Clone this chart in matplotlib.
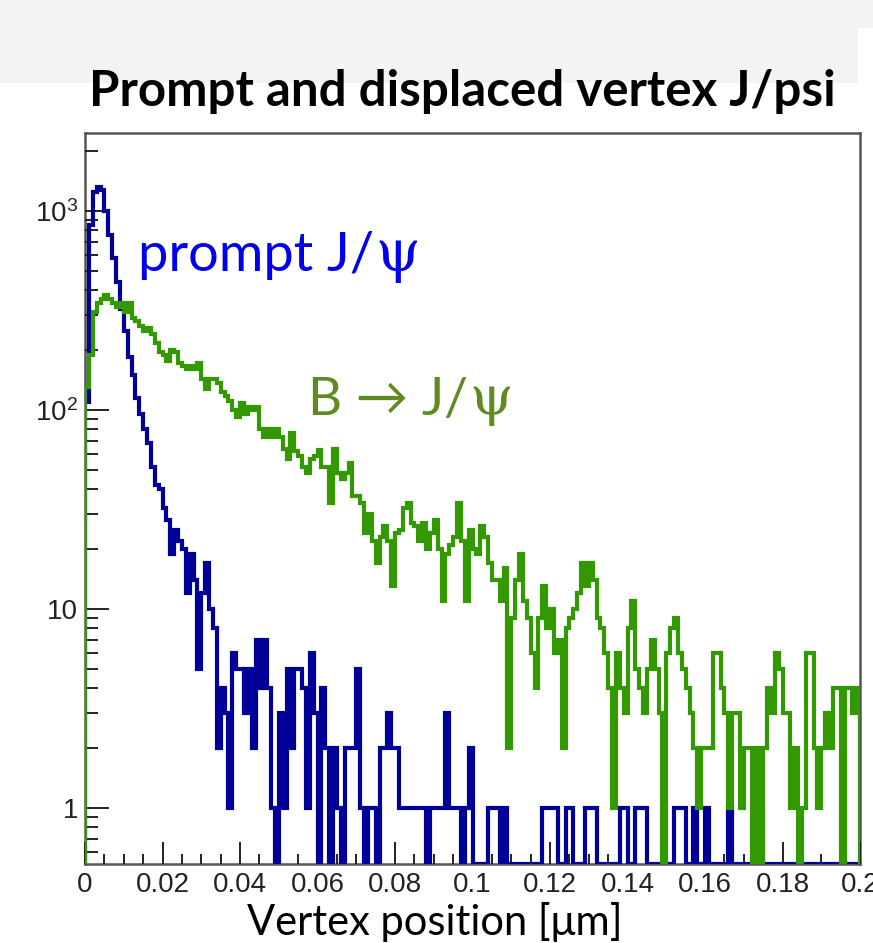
import numpy as np
import matplotlib
matplotlib.use("Agg")
import matplotlib.pyplot as plt
from matplotlib.patches import Rectangle
from matplotlib.offsetbox import TextArea, HPacker, AnnotationBbox
from matplotlib.ticker import MultipleLocator, LogLocator, FixedLocator, FixedFormatter, NullFormatter, FuncFormatter

plt.rcParams['mathtext.fontset'] = 'custom'
plt.rcParams['mathtext.rm'] = 'Liberation Sans'

# histogram binning: 200 bins between 0 and 0.2
x_min = 0.0
x_max = 0.2
n_bins = 200

# prompt J/psi counts per bin
prompt_counts = [
    110, 850, 1250, 1320, 1280, 1000, 760, 580, 440, 320,
    250, 185, 150, 115, 95, 80, 68, 52, 42, 40,
    32, 28, 19, 25, 22, 20, 12, 19, 14, 5,
    12, 17, 10, 8, 2, 4, 3, 1, 6, 5,
    5, 3, 5, 2, 7, 4, 7, 4, 1, 0,
    3, 1, 5, 2, 5, 5, 4, 1, 6, 3,
    0, 4, 2, 0, 2, 1, 0, 2, 2, 2,
    5, 1, 0, 1, 1, 0, 2, 2, 3, 2,
    2, 1, 1, 1, 1, 1, 1, 1, 0, 1,
    1, 1, 1, 3, 1, 1, 1, 0, 1, 2,
    0, 0, 0, 0, 1, 1, 1, 0, 1, 0,
    0, 0, 0, 0, 0, 0, 0, 0, 1, 1,
    1, 1, 0, 0, 1, 1, 0, 0, 0, 1,
    1, 1, 0, 0, 0, 0, 0, 0, 1, 1,
    0, 0, 1, 1, 1, 0, 0, 0, 0, 0,
    0, 0, 1, 1, 1, 0, 0, 1, 0, 0,
    1, 0, 0, 0, 0, 0, 1, 0, 0, 0,
    0, 0, 0, 0, 1, 0, 0, 0, 0, 0,
    0, 0, 0, 0, 0, 0, 0, 0, 0, 0,
    0, 0, 0, 0, 0, 0, 0, 0, 0, 0,
]

# B -> J/psi (displaced vertex) counts per bin
displaced_counts = [
    130, 190, 310, 345, 362, 380, 360, 345, 330, 345,
    310, 345, 290, 280, 265, 250, 258, 240, 216, 195,
    190, 177, 200, 195, 172, 166, 160, 166, 160, 172,
    143, 128, 143, 143, 136, 123, 117, 111, 100, 92,
    108, 95, 103, 100, 103, 80, 73, 80, 73, 80,
    73, 64, 57, 77, 62, 59, 52, 48, 57, 59,
    63, 52, 52, 34, 64, 48, 45, 48, 54, 37,
    37, 34, 24, 30, 22, 17, 23, 26, 22, 13,
    24, 25, 32, 34, 27, 26, 22, 27, 20, 24,
    28, 20, 11, 19, 21, 23, 34, 22, 11, 25,
    20, 19, 26, 23, 17, 14, 14, 11, 16, 2,
    9, 14, 19, 11, 9, 6, 4, 9, 13, 8,
    10, 6, 7, 2, 8, 9, 10, 12, 17, 13,
    17, 14, 9, 8, 6, 4, 1, 6, 4, 3,
    8, 11, 5, 4, 3, 5, 7, 5, 3, 0,
    6, 8, 9, 6, 5, 4, 3, 2, 1, 2,
    2, 2, 6, 6, 4, 3, 1, 3, 3, 1,
    2, 2, 0, 2, 0, 2, 4, 3, 6, 5,
    3, 3, 1, 2, 0, 1, 6, 6, 2, 1,
    2, 3, 2, 4, 4, 0, 4, 4, 3, 4,
]

y_lo, y_hi = 0.523, 2466

edges = np.linspace(x_min, x_max, n_bins + 1)
# empty bins are drawn along the bottom of the frame
prompt = np.where(np.array(prompt_counts) > 0, prompt_counts, y_lo)
displaced = np.where(np.array(displaced_counts) > 0, displaced_counts, y_lo)

W, H = 873, 943
fig = plt.figure(figsize=(W / 100, H / 100), dpi=100)

# light slide band behind the title
band = dict(transform=fig.transFigure, facecolor='#f3f3f3', edgecolor='none', zorder=0)
fig.patches.append(Rectangle((0, 1 - 83 / H), 858 / W, 83 / H, **band))
fig.patches.append(Rectangle((858 / W, 1 - 28 / H), 15 / W, 28 / H, **band))

ax = fig.add_axes([85 / W, 1 - 864 / H, 775 / W, 731 / H])
ax.set_yscale('log')

ax.stairs(prompt, edges, baseline=y_lo, color='#000099', linewidth=3.0, zorder=2)
ax.stairs(displaced, edges, baseline=y_lo, color='#339900', linewidth=3.0, zorder=3)

ax.set_xlim(x_min, x_max)
ax.set_ylim(y_lo, y_hi)

for side in ['left', 'bottom', 'right', 'top']:
    ax.spines[side].set_color('#555555')
    ax.spines[side].set_linewidth(1.8)
    ax.spines[side].set_zorder(1.5)

ax.xaxis.set_major_locator(MultipleLocator(0.02))
ax.xaxis.set_minor_locator(MultipleLocator(0.005))
ax.xaxis.set_major_formatter(FuncFormatter(lambda v, p: '%g' % round(v, 3)))

ax.yaxis.set_major_locator(FixedLocator([1, 10, 100, 1000]))
ax.yaxis.set_major_formatter(FixedFormatter(['1', '10', r'$\mathregular{10^{2}}$', r'$\mathregular{10^{3}}$']))
ax.yaxis.set_minor_locator(LogLocator(base=10, subs=np.arange(2, 10), numticks=20))
ax.yaxis.set_minor_formatter(NullFormatter())

ax.tick_params(axis='both', which='both', direction='in', top=False, right=False,
               color='#222222', width=1.4)
ax.tick_params(axis='y', which='major', length=17, pad=5)
ax.tick_params(axis='y', which='minor', length=9)
ax.tick_params(axis='x', which='major', length=16, pad=6)
ax.tick_params(axis='x', which='minor', length=7)
for lab in ax.get_xticklabels() + ax.get_yticklabels():
    lab.set_fontfamily('Liberation Sans')
    lab.set_fontsize(20)
    lab.set_color('#222222')


def curve_label(x, y, head, color, size):
    # text in a sans face followed by a serif psi, as on the slide
    a = TextArea(head, textprops=dict(color=color, fontsize=size, family=['Lato', 'DejaVu Sans']))
    b = TextArea('ψ', textprops=dict(color=color, fontsize=size * 1.05, family='DejaVu Serif'))
    box = HPacker(children=[a, b], align='baseline', pad=0, sep=1)
    ab = AnnotationBbox(box, (x, y), xycoords='data', box_alignment=(0, 0.5),
                        frameon=False, zorder=5)
    ax.add_artist(ab)


curve_label(0.0137, 10 ** ((808 - 255) / 199), 'prompt J/', '#0000ee', 39)
curve_label(0.0575, 10 ** ((808 - 400) / 199), 'B → J/', '#5f8a1f', 38)

fig.text(462 / W, 1 - 106 / H, 'Prompt and displaced vertex J/psi', ha='center', va='baseline',
         fontsize=35.5, fontweight='bold', family='Lato', color='black')
fig.text(435 / W, 1 - 935 / H, 'Vertex position [μm]', ha='center', va='baseline',
         fontsize=30, family=['Lato', 'DejaVu Sans'], color='black')

fig.savefig('out.png', dpi=100)
